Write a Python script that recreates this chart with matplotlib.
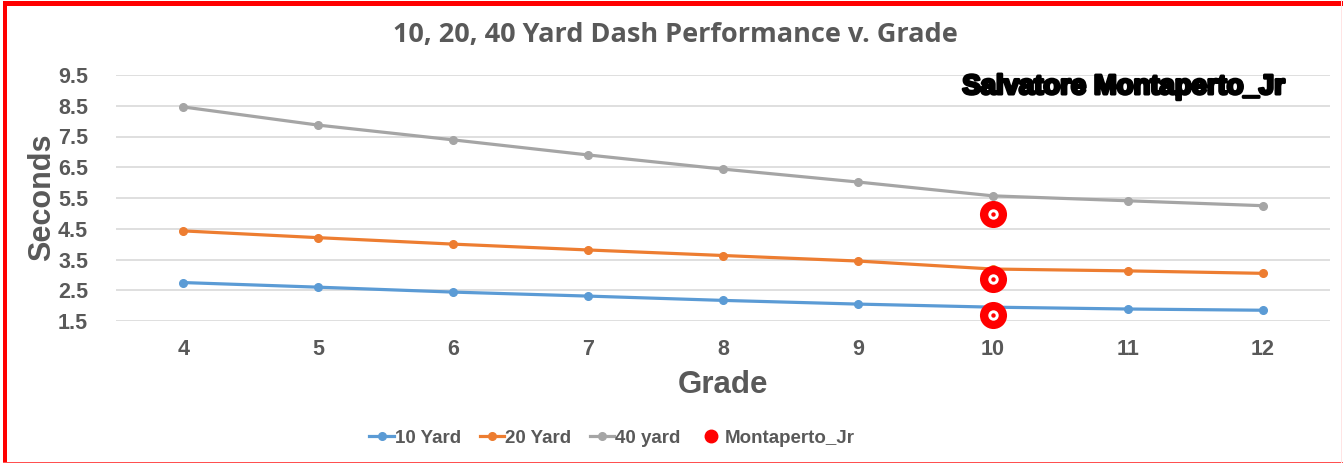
import matplotlib
matplotlib.use("Agg")
import matplotlib.pyplot as plt
import matplotlib.patheffects as pe
from matplotlib.lines import Line2D
from matplotlib.patches import Rectangle

grades = ["4", "5", "6", "7", "8", "9", "10", "11", "12"]
yard10 = [2.75, 2.60, 2.44, 2.31, 2.17, 2.05, 1.95, 1.89, 1.85]
yard20 = [4.43, 4.21, 4.00, 3.81, 3.63, 3.45, 3.19, 3.13, 3.05]
yard40 = [8.46, 7.87, 7.39, 6.90, 6.44, 6.02, 5.57, 5.41, 5.25]
mont_grade = ["10", "10", "10"]
mont_vals = [4.98, 2.86, 1.69]
yticks = [1.5, 2.5, 3.5, 4.5, 5.5, 6.5, 7.5, 8.5, 9.5]

W, H = 1343, 463
fig = plt.figure(figsize=(W / 100, H / 100), dpi=100)
ax = fig.add_axes([116 / W, 1 - 321 / H, (1330 - 116) / W, (321 - 75) / H])

x = list(range(len(grades)))
idx = {g: i for i, g in enumerate(grades)}
gray = "#595959"

c10, c20, c40 = "#5B9BD5", "#ED7D31", "#A5A5A5"
ax.plot(x, yard10, color=c10, lw=2.3, marker="o", ms=5.5, zorder=3)
ax.plot(x, yard20, color=c20, lw=2.3, marker="o", ms=5.5, zorder=3)
ax.plot(x, yard40, color=c40, lw=2.3, marker="o", ms=5.5, zorder=3)

mx = [idx[g] for g in mont_grade]
ax.scatter(mx, mont_vals, s=19.5 ** 2, color="#FF0000", zorder=4, linewidths=0, clip_on=False)
ax.scatter(mx, mont_vals, s=7.5 ** 2, color="white", zorder=5, linewidths=0, clip_on=False)
ax.scatter(mx, mont_vals, s=3.2 ** 2, color="#FF0000", zorder=6, linewidths=0, clip_on=False)

ax.set_xlim(-0.5, len(grades) - 0.5)
ax.set_ylim(1.5, 9.5)
ax.set_yticks(yticks)
ax.set_yticklabels([f"{v:.1f}" for v in yticks])
ax.set_xticks(x)
ax.set_xticklabels(grades)
ax.grid(axis="y", color="#D9D9D9", lw=1.2)
ax.set_axisbelow(True)
for s in ax.spines.values():
    s.set_visible(False)
ax.tick_params(length=0, colors=gray, labelsize=15.5, pad=13)
ax.tick_params(axis="y", pad=20)
for lab in ax.get_xticklabels() + ax.get_yticklabels():
    lab.set_fontfamily("Liberation Sans")
    lab.set_fontweight("bold")
    lab.set_color(gray)

fig.text(675 / W, 1 - 35 / H, "10, 20, 40 Yard Dash Performance v. Grade",
         ha="center", va="center", fontsize=19.5, color=gray,
         family="Open Sans", weight="bold")
fig.text(723 / W, 1 - 385 / H, "Grade", ha="center", va="center",
         fontsize=22.5, color=gray, family="Liberation Sans", weight="bold")
fig.text(42 / W, 1 - 197 / H, "Seconds", ha="center", va="center", rotation=90,
         fontsize=22, color=gray, family="Liberation Sans", weight="bold")
fig.text(1124 / W, 1 - 87 / H, "Salvatore Montaperto_Jr", ha="center", va="center",
         fontsize=19.8, color="black", family="Liberation Sans", weight="bold",
         path_effects=[pe.withStroke(linewidth=2.2, foreground="black")])

handles = [
    Line2D([], [], color=c10, lw=2.3, marker="o", ms=5.5),
    Line2D([], [], color=c20, lw=2.3, marker="o", ms=5.5),
    Line2D([], [], color=c40, lw=2.3, marker="o", ms=5.5),
    Line2D([], [], color="#FF0000", lw=0, marker="o", ms=9),
]
labels = ["10 Yard", "20 Yard", "40 yard", "Montaperto_Jr"]
leg = fig.legend(handles, labels, loc="center", bbox_to_anchor=(612 / W, 1 - 438 / H),
                 ncol=4, frameon=False, handlelength=1.3, handletextpad=0.05,
                 columnspacing=1.0,
                 prop={"family": "Liberation Sans", "weight": "bold", "size": 13.5})
for t in leg.get_texts():
    t.set_color(gray)

# red border
fig.patches.append(Rectangle((3 / W, 0), 4 / W, 1 - 2 / H, transform=fig.transFigure,
                             color="#FF0000", lw=0))
fig.patches.append(Rectangle((3 / W, 1 - 5.5 / H), (1343 - 3) / W, 4 / H,
                             transform=fig.transFigure, color="#FF0000", lw=0))
fig.patches.append(Rectangle((3 / W, 0), (1343 - 3) / W, 1.5 / H,
                             transform=fig.transFigure, color="#FF5050", lw=0))
fig.patches.append(Rectangle((1341 / W, 0), 1 / W, 1, transform=fig.transFigure,
                             color="#FFE4E4", lw=0))

fig.savefig("out.png", dpi=100)
